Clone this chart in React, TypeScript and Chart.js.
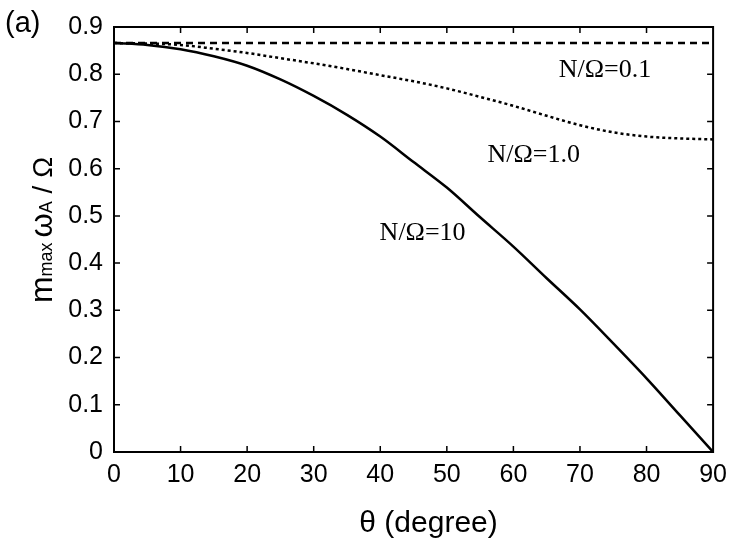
import { useEffect, useRef } from 'react';
import { Chart, registerables } from 'chart.js';

Chart.register(...registerables);

// theta in degrees
const theta = [0, 5, 10, 15, 20, 25, 30, 35, 40, 45, 50, 55, 60, 65, 70, 75, 80, 85, 90];

// m_max * omega_A / Omega
const ratio01 = [0.866, 0.866, 0.866, 0.866, 0.866, 0.866, 0.866, 0.866, 0.866, 0.866,
  0.866, 0.866, 0.866, 0.866, 0.866, 0.866, 0.866, 0.866, 0.866];
const ratio10 = [0.866, 0.865, 0.862, 0.854, 0.845, 0.834, 0.823, 0.811, 0.798, 0.785,
  0.770, 0.752, 0.733, 0.712, 0.692, 0.677, 0.668, 0.664, 0.662];
const ratio100 = [0.866, 0.862, 0.853, 0.838, 0.818, 0.789, 0.754, 0.714, 0.668, 0.614,
  0.560, 0.497, 0.435, 0.368, 0.302, 0.230, 0.156, 0.078, 0.0];

const seriesLabels = ['N/Ω=0.1', 'N/Ω=1.0', 'N/Ω=10'];
// where each curve label sits (theta, value at text baseline)
const labelTheta = [66.8, 56.1, 39.9];
const labelValue = [0.794, 0.614, 0.449];

const xTicks = [0, 10, 20, 30, 40, 50, 60, 70, 80, 90];
const yTicks = [0, 0.1, 0.2, 0.3, 0.4, 0.5, 0.6, 0.7, 0.8, 0.9];

const SANS = '"Liberation Sans", Arial, Helvetica, sans-serif';
const SERIF = '"Liberation Serif", "Times New Roman", serif';

const toPoints = (ys: number[]) => theta.map((t, i) => ({ x: t, y: ys[i] }));

// frame, inward ticks, axis titles and curve labels
const decorations = {
  id: 'decorations',
  afterDraw(chart: any) {
    const { ctx, chartArea, scales } = chart;
    const { left, right, top, bottom } = chartArea;
    const xs = scales.x;
    const ys = scales.y;
    ctx.save();
    ctx.strokeStyle = '#000';
    ctx.lineWidth = 2;
    ctx.strokeRect(left, top, right - left, bottom - top);

    ctx.lineWidth = 1.5;
    const tl = 6;
    ctx.beginPath();
    xTicks.slice(1, -1).forEach((t) => {
      const px = xs.getPixelForValue(t);
      ctx.moveTo(px, bottom);
      ctx.lineTo(px, bottom - tl);
      ctx.moveTo(px, top);
      ctx.lineTo(px, top + tl);
    });
    yTicks.slice(1, -1).forEach((v) => {
      const py = ys.getPixelForValue(v);
      ctx.moveTo(left, py);
      ctx.lineTo(left + tl, py);
      ctx.moveTo(right, py);
      ctx.lineTo(right - tl, py);
    });
    ctx.stroke();

    ctx.fillStyle = '#000';

    // curve labels
    ctx.font = `26px ${SERIF}`;
    ctx.textAlign = 'left';
    ctx.textBaseline = 'alphabetic';
    seriesLabels.forEach((s, i) => {
      ctx.fillText(s, xs.getPixelForValue(labelTheta[i]), ys.getPixelForValue(labelValue[i]));
    });

    // panel tag
    ctx.font = `29px ${SANS}`;
    ctx.fillText('(a)', 5, 32);

    // x title
    ctx.font = `30px ${SANS}`;
    ctx.textAlign = 'center';
    ctx.fillText('θ (degree)', (left + right) / 2 + 15, 532);

    // y title with subscripts
    const parts: [string, number][] = [
      ['m', 32], ['max ', 18], ['ω', 31], ['A', 18], [' / ', 28], ['Ω', 28],
    ];
    ctx.textAlign = 'left';
    let total = 0;
    parts.forEach(([t, sz]) => {
      ctx.font = `${sz}px ${SANS}`;
      total += ctx.measureText(t).width;
    });
    ctx.translate(52, 230);
    ctx.rotate(-Math.PI / 2);
    let cx = -total / 2;
    parts.forEach(([t, sz]) => {
      ctx.font = `${sz}px ${SANS}`;
      ctx.fillText(t, cx, 0);
      cx += ctx.measureText(t).width;
    });
    ctx.restore();
  },
};

export default function App() {
  const canvasRef = useRef<HTMLCanvasElement | null>(null);

  useEffect(() => {
    if (!canvasRef.current) return;
    const chart = new Chart(canvasRef.current, {
      type: 'line',
      data: {
        datasets: [
          {
            label: seriesLabels[0],
            data: toPoints(ratio01),
            borderColor: '#000',
            borderWidth: 2.5,
            borderDash: [7, 5],
            pointRadius: 0,
          },
          {
            label: seriesLabels[1],
            data: toPoints(ratio10),
            borderColor: '#000',
            borderWidth: 2.5,
            borderDash: [3, 3],
            pointRadius: 0,
            cubicInterpolationMode: 'monotone',
          },
          {
            label: seriesLabels[2],
            data: toPoints(ratio100),
            borderColor: '#000',
            borderWidth: 2.5,
            pointRadius: 0,
            cubicInterpolationMode: 'monotone',
          },
        ],
      },
      options: {
        responsive: false,
        animation: false,
        layout: { padding: { top: 27, right: 21, left: 0, bottom: 0 } },
        plugins: {
          legend: { display: false },
          tooltip: { enabled: false },
        },
        scales: {
          x: {
            type: 'linear',
            min: 0,
            max: 90,
            afterBuildTicks: (scale: any) => {
              scale.ticks = xTicks.map((v) => ({ value: v }));
            },
            afterFit: (scale: any) => {
              scale.height = 96;
            },
            grid: { display: false, drawTicks: false },
            border: { display: false },
            ticks: {
              color: '#000',
              padding: 8,
              maxRotation: 0,
              autoSkip: false,
              font: { family: SANS, size: 25 },
              callback: (v: any) => String(v),
            },
          },
          y: {
            type: 'linear',
            min: 0,
            max: 0.9,
            afterBuildTicks: (scale: any) => {
              scale.ticks = yTicks.map((v) => ({ value: v }));
            },
            afterFit: (scale: any) => {
              scale.width = 114;
            },
            grid: { display: false, drawTicks: false },
            border: { display: false },
            ticks: {
              color: '#000',
              padding: 11,
              autoSkip: false,
              font: { family: SANS, size: 25 },
              callback: (v: any) => (v === 0 ? '0' : Number(v).toFixed(1)),
            },
          },
        },
      },
      plugins: [decorations],
    } as any);
    return () => chart.destroy();
  }, []);

  return (
    <div style={{ position: 'absolute', left: 0, top: 0, width: 735, height: 548, background: '#fff' }}>
      <canvas ref={canvasRef} width={735} height={548} style={{ display: 'block' }} />
    </div>
  );
}
